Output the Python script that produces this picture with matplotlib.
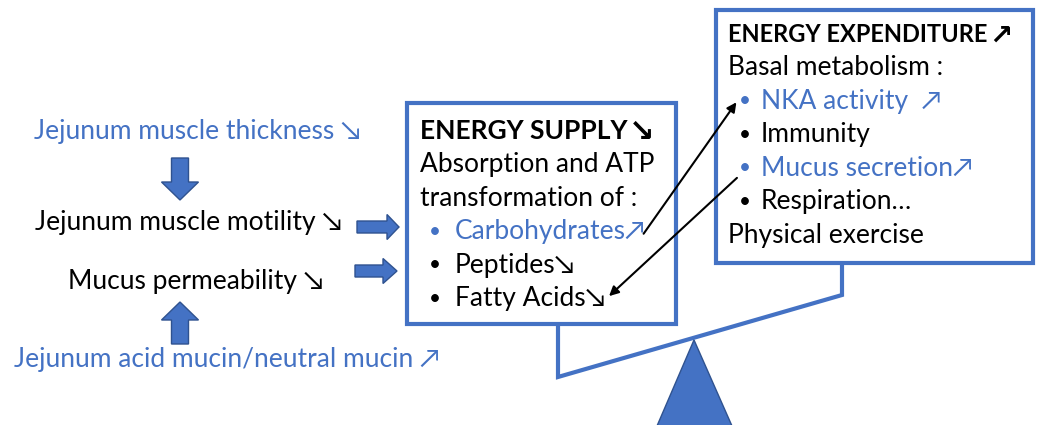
import matplotlib.pyplot as plt
from matplotlib.patches import Rectangle, FancyArrow, Polygon

BLUE = "#4472C4"
DARK = "#2F528F"
FONT = ["Lato", "DejaVu Sans"]

# diagram texts
supply_title = "ENERGY SUPPLY"
supply_title_arrow = "\u2198"
supply_lines = ["Absorption and ATP", "transformation of :"]
supply_items = ["Carbohydrates\u2197", "Peptides\u2198", "Fatty Acids\u2198"]
supply_item_blue = [True, False, False]

exp_title = "ENERGY EXPENDITURE"
exp_title_arrow = "\u2197"
exp_lines = ["Basal metabolism :"]
exp_items = ["NKA activity  \u2197", "Immunity", "Mucus secretion\u2197", "Respiration\u2026"]
exp_item_blue = [True, False, True, False]
exp_footer = "Physical exercise"

left_labels = ["Jejunum muscle thickness \u2198", "Jejunum muscle motility \u2198",
               "Mucus permeability \u2198", "Jejunum acid mucin/neutral mucin \u2197"]
left_blue = [True, False, False, True]

fig = plt.figure(figsize=(10.42, 4.25), dpi=100)
ax = fig.add_axes([0, 0, 1, 1])
ax.set_xlim(0, 1042)
ax.set_ylim(425, 0)
ax.axis("off")

FS = 19
LH = 33.5


def txt(x, y, s, color="black", bold=False, ha="left", size=FS, family=FONT):
    return ax.text(x, y, s, fontsize=size, color=color, ha=ha, va="center",
                   family=family, fontweight="bold" if bold else "normal", zorder=6)


def title(x, y, s, arrow, size):
    t = txt(x, y, s, bold=True, size=size)
    ax.annotate(arrow, xy=(1, 0.45), xycoords=t, xytext=(1, 0), textcoords="offset points",
                ha="left", va="center", fontsize=size + 3, fontweight="bold",
                family=["DejaVu Sans"], zorder=6)


# seesaw beam
ax.plot([558, 558, 842, 842], [324, 377, 295, 263], color=BLUE, lw=3,
        solid_joinstyle="miter", zorder=1)
ax.add_patch(Polygon([[694, 340], [657, 426], [732, 426]], closed=True,
                     facecolor=BLUE, edgecolor=DARK, lw=1, zorder=2))

# boxes
ax.add_patch(Rectangle((407, 103), 269, 221, facecolor="white", edgecolor=BLUE, lw=3, zorder=3))
ax.add_patch(Rectangle((716, 10), 317, 253, facecolor="white", edgecolor=BLUE, lw=3, zorder=3))

# supply box text
y = 131
title(420, y, supply_title, supply_title_arrow, FS)
for s in supply_lines:
    y += LH
    txt(420, y, s)
for s, b in zip(supply_items, supply_item_blue):
    y += LH
    c = BLUE if b else "black"
    txt(429, y, "\u2022", color=c, size=FS - 4)
    txt(455, y, s, color=c)

# expenditure box text
y = 34
title(728, y, exp_title, exp_title_arrow, FS - 2)
for s in exp_lines:
    y += LH
    txt(728, y, s)
for s, b in zip(exp_items, exp_item_blue):
    y += LH
    c = BLUE if b else "black"
    txt(739, y, "\u2022", color=c, size=FS - 4)
    txt(761, y, s, color=c)
y += LH
txt(728, y, exp_footer)

# left side labels
left_pos = [(197, 131), (189, 222), (196, 281), (227, 360)]
for (x, yy), s, b in zip(left_pos, left_labels, left_blue):
    txt(x, yy, s, color=BLUE if b else "black", ha="center")

# block arrows
akw = dict(facecolor=BLUE, edgecolor=DARK, lw=1, length_includes_head=True, zorder=4)
ax.add_patch(FancyArrow(180, 158, 0, 42, width=17, head_width=37, head_length=18, **akw))
ax.add_patch(FancyArrow(180, 344, 0, -42, width=17, head_width=37, head_length=18, **akw))
ax.add_patch(FancyArrow(357, 227, 42, 0, width=12, head_width=25, head_length=12, **akw))
ax.add_patch(FancyArrow(355, 271, 42, 0, width=12, head_width=25, head_length=14, **akw))

# thin linking arrows
ax.annotate("", xy=(738, 100), xytext=(642, 236),
            arrowprops=dict(arrowstyle="-|>", color="black", lw=1.5, mutation_scale=14), zorder=5)
ax.annotate("", xy=(607, 298), xytext=(739, 176),
            arrowprops=dict(arrowstyle="-|>", color="black", lw=1.5, mutation_scale=14), zorder=5)

fig.savefig("out.png", dpi=100)
